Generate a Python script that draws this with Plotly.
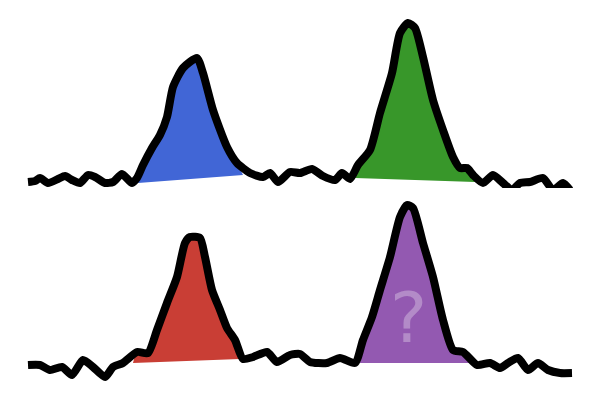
import numpy as np
import plotly.graph_objects as go
from plotly.subplots import make_subplots

# Top row signal (position, height)
x_top = [28, 35, 40, 48, 58, 65, 72, 80, 88, 95, 105, 113, 122, 132, 137, 143, 152, 160, 167, 173,
         183, 197, 203, 213, 227, 237, 250, 263, 270, 278, 290, 300, 312, 323, 335, 342, 350, 358,
         370, 380, 392, 400, 408, 415, 423, 433, 443, 453, 460, 467, 473, 483, 493, 503, 512, 520,
         530, 543, 553, 563, 570]
y_top = [18, 19, 22, 17, 21, 24, 20, 17, 25, 23, 17, 18, 26, 17, 22, 35, 52, 65, 83, 113,
         132, 142, 127, 90, 53, 37, 27, 23, 27, 18, 28, 27, 31, 24, 20, 27, 21, 35,
         50, 87, 127, 167, 177, 172, 143, 100, 70, 43, 32, 32, 25, 17, 25, 17, 10, 17,
         18, 22, 10, 17, 10]

# Bottom row signal (position, height)
x_bot = [28, 40, 50, 62, 72, 83, 93, 105, 113, 123, 137, 148, 157, 167, 177, 185, 190, 200, 205,
         212, 220, 227, 235, 243, 253, 267, 277, 290, 300, 310, 327, 340, 355, 363, 372, 380, 390,
         400, 407, 413, 423, 433, 443, 453, 463, 477, 490, 500, 508, 518, 528, 538, 548, 560, 572]
y_bot = [35, 35, 30, 33, 25, 40, 33, 23, 33, 37, 48, 47, 70, 97, 123, 157, 163, 162, 143,
         110, 90, 72, 60, 41, 43, 48, 38, 45, 46, 38, 37, 42, 37, 60, 83, 110, 143,
         183, 195, 192, 157, 123, 80, 50, 48, 35, 37, 32, 37, 42, 30, 37, 30, 27, 27]

# Peaks: row, baseline start (x, y), baseline end (x, y), colour
peak_rows = ["top", "top", "bottom", "bottom"]
peak_x0 = [138, 355, 133, 360]
peak_y0 = [17, 22, 37, 37]
peak_x1 = [243, 475, 240, 473]
peak_y1 = [25, 18, 41, 37]
peak_colors = ["#4166d6", "#38972a", "#c93e35", "#9359b1"]

fig = make_subplots(rows=2, cols=1, vertical_spacing=0)

signals = {"top": (x_top, y_top, 1), "bottom": (x_bot, y_bot, 2)}

for row_name, x0, b0, x1, b1, col in zip(peak_rows, peak_x0, peak_y0, peak_x1, peak_y1, peak_colors):
    xs, ys, r = signals[row_name]
    xs = np.array(xs)
    ys = np.array(ys)
    inside = (xs > x0) & (xs < x1)
    px = np.concatenate([[x0], xs[inside], [x1]])
    py = np.concatenate([[b0], ys[inside], [b1]])
    fig.add_trace(go.Scatter(x=px, y=py, mode="lines", fill="toself", fillcolor=col,
                             line=dict(width=0, shape="spline", smoothing=0.6),
                             hoverinfo="skip"), row=r, col=1)

for row_name in ["top", "bottom"]:
    xs, ys, r = signals[row_name]
    fig.add_trace(go.Scatter(x=xs, y=ys, mode="lines",
                             line=dict(color="black", width=8, shape="spline", smoothing=0.6)),
                  row=r, col=1)

# the mystery peak
fig.add_annotation(x=408, y=82, text="?", showarrow=False, xref="x2", yref="y2",
                   font=dict(family="DejaVu Sans", size=70, color="rgba(255,255,255,0.3)"))

# ranges offset a little because the page body adds a margin round the figure;
# bottom panel is a bit taller so its tallest peak is not clipped
fig.update_xaxes(range=[8, 608], visible=False)
fig.update_yaxes(visible=False)
fig.update_layout(width=600, height=400, margin=dict(l=0, r=0, t=0, b=0),
                  yaxis=dict(domain=[0.5, 1], range=[-8, 192]),
                  yaxis2=dict(domain=[0, 0.55], range=[-8, 212]),
                  plot_bgcolor="white", paper_bgcolor="white", showlegend=False)

fig.write_html("out.html")
